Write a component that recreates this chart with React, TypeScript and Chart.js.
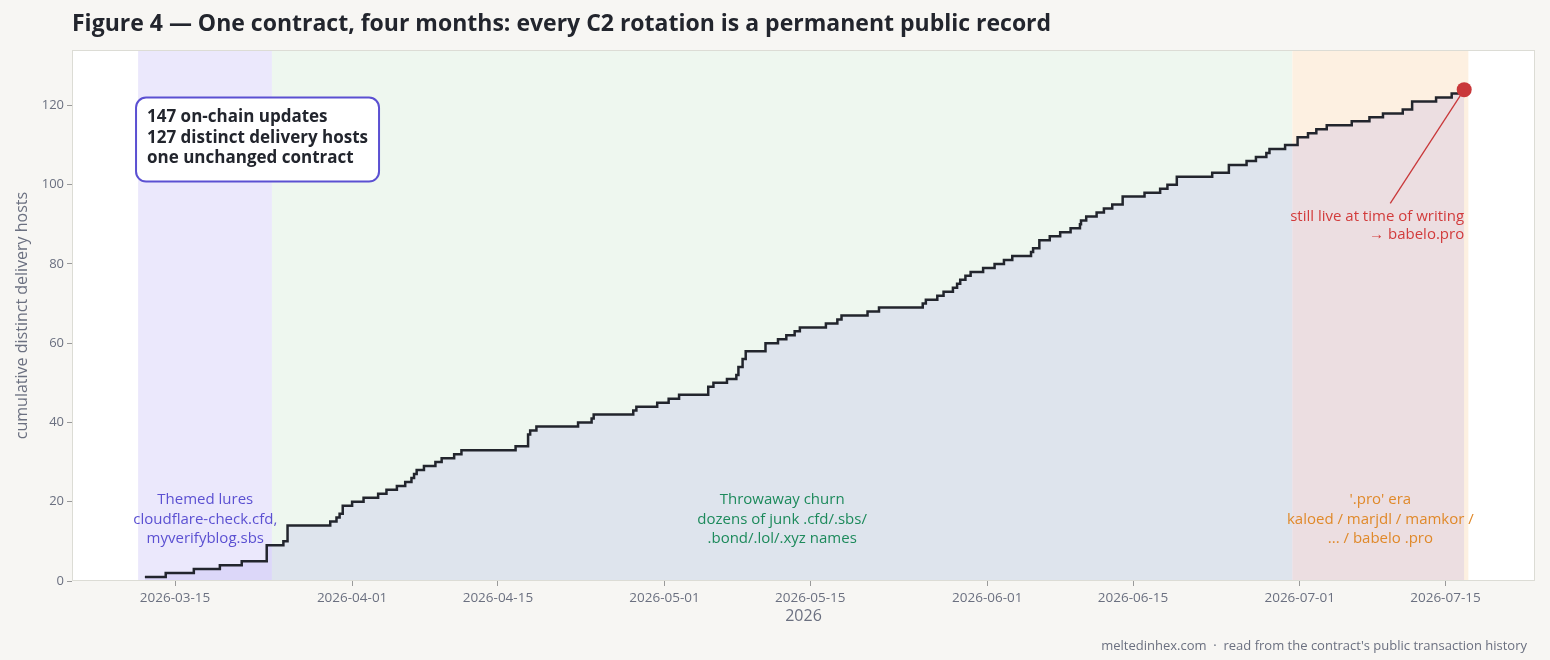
import React, { useEffect, useRef } from 'react';
import { Chart, registerables } from 'chart.js';

Chart.register(...registerables);

// day numbers are days since 2026-03-01
const STEP_DAYS = [
  11.1, 13.1, 15.8, 18.3, 20.4, 22.8, 24.4, 24.8, 28.9, 29.5, 29.8, 30.1, 31.0, 32.1, 33.5, 34.3,
  35.3, 36.1, 36.7, 36.95, 37.2, 37.9, 39.0, 39.6, 40.8, 41.5, 46.7, 47.9, 48.1, 48.7, 52.7, 54.0,
  54.2, 58.0, 58.3, 60.3, 61.4, 62.4, 65.2, 65.7, 67.0, 67.9, 68.1, 68.5, 68.8, 70.7, 71.9, 72.7,
  73.5, 74.0, 76.5, 77.6, 78.0, 80.5, 81.6, 85.8, 86.1, 87.2, 87.8, 88.7, 89.1, 89.4, 89.9, 90.4,
  91.6, 92.7, 93.6, 94.4, 96.2, 96.4, 97.0, 98.0, 99.0, 100.0, 100.9, 101.0, 101.5, 102.5, 103.2,
  104.0, 105.0, 107.1, 108.6, 109.3, 110.2, 113.6, 115.2, 116.9, 117.8, 118.8, 119.1, 120.6, 121.8,
  122.8, 123.6, 124.6, 127.0, 128.7, 130.0, 131.9, 132.8, 135.1, 136.6, 137.4, 137.8,
];
const STEP_COUNTS = [
  1, 2, 3, 4, 5, 9, 10, 14, 15, 16, 17, 19, 20, 21, 22, 23,
  24, 25, 26, 27, 28, 29, 30, 31, 32, 33, 34, 37, 38, 39, 40, 41,
  42, 43, 44, 45, 46, 47, 49, 50, 51, 52, 54, 56, 58, 60, 61, 62,
  63, 64, 65, 66, 67, 68, 69, 70, 71, 72, 73, 74, 75, 76, 77, 78,
  79, 80, 81, 82, 83, 84, 86, 87, 88, 89, 90, 91, 92, 93, 94,
  95, 97, 98, 99, 100, 102, 103, 105, 106, 107, 108, 109, 110, 112,
  113, 114, 115, 116, 117, 118, 119, 121, 122, 123, 124, 124,
];

const TICK_DAYS = [14, 31, 45, 61, 75, 92, 106, 122, 136];
const TICK_LABELS = [
  '2026-03-15', '2026-04-01', '2026-04-15', '2026-05-01', '2026-05-15',
  '2026-06-01', '2026-06-15', '2026-07-01', '2026-07-15',
];
const Y_TICKS = [0, 20, 40, 60, 80, 100, 120];

const X_MIN = 4.1;
const X_MAX = 144.6;
const Y_MAX = 134;

// eras: [startDay, endDay]
const ERA_NAMES = ['Themed lures', 'Throwaway churn', "'.pro' era"];
const ERA_START = [10.45, 23.3, 121.3];
const ERA_END = [23.3, 121.3, 138.2];
const ERA_BG = ['#ebe8fc', '#eef7ef', '#fdf0e1'];

const LAST_DAY = 137.8;
const LAST_COUNT = 124;

const TITLE = 'Figure 4 — One contract, four months: every C2 rotation is a permanent public record';
const FOOTER = "meltedinhex.com  ·  read from the contract's public transaction history";
const BOX_LINES = ['147 on-chain updates', '127 distinct delivery hosts', 'one unchanged contract'];
const ERA_TEXT = [
  ['Themed lures', 'cloudflare-check.cfd,', 'myverifyblog.sbs'],
  ['Throwaway churn', 'dozens of junk .cfd/.sbs/', '.bond/.lol/.xyz names'],
  ["'.pro' era", 'kaloed / marjdl / mamkor /', '... / babelo .pro'],
];
const ERA_TEXT_COLOR = ['#5b50d2', '#1d8a5c', '#e0892a'];
const ERA_TEXT_X = [16.9, 72.3, 129.75];
const ERA_TEXT_Y = 20.4;
const LIVE_TEXT = ['still live at time of writing', '→ babelo.pro'];
const LIVE_ARROW_START = { x: 130.7, y: 95.3 };
const BOX_POS = { x: 10.25, y: 122 };

const FONT = "'Open Sans', 'Noto Sans', sans-serif";
const INK = '#22252d';
const GRAY = '#6b7080';
const RED = '#c9383a';

const decor = {
  id: 'decor',
  beforeDraw(chart: any) {
    const { ctx, width, height } = chart;
    ctx.save();
    ctx.fillStyle = '#f7f6f3';
    ctx.fillRect(0, 0, width, height);
    const a = chart.chartArea;
    ctx.fillStyle = '#ffffff';
    ctx.fillRect(a.left, a.top, a.right - a.left, a.bottom - a.top);
    const xs = chart.scales.x;
    ERA_NAMES.forEach((_, i) => {
      const x0 = xs.getPixelForValue(ERA_START[i]);
      const x1 = xs.getPixelForValue(ERA_END[i]);
      ctx.fillStyle = ERA_BG[i];
      ctx.fillRect(x0, a.top, x1 - x0, a.bottom - a.top);
    });
    ctx.restore();
  },
  afterDatasetsDraw(chart: any) {
    const { ctx } = chart;
    const a = chart.chartArea;
    const xs = chart.scales.x;
    const ys = chart.scales.y;
    ctx.save();
    // border
    ctx.strokeStyle = '#dcdcd5';
    ctx.lineWidth = 1;
    ctx.strokeRect(a.left + 0.5, a.top + 0.5, a.right - a.left - 1, a.bottom - a.top - 1);

    // era labels
    ctx.font = `15px ${FONT}`;
    ctx.textAlign = 'center';
    ctx.textBaseline = 'middle';
    ERA_TEXT.forEach((lines, i) => {
      ctx.fillStyle = ERA_TEXT_COLOR[i];
      const cx = xs.getPixelForValue(ERA_TEXT_X[i]);
      const cy = ys.getPixelForValue(ERA_TEXT_Y);
      lines.forEach((t, j) => ctx.fillText(t, cx, cy + j * 19.5));
    });

    // live annotation
    const px = xs.getPixelForValue(LAST_DAY);
    const py = ys.getPixelForValue(LAST_COUNT);
    const sx = xs.getPixelForValue(LIVE_ARROW_START.x);
    const sy = ys.getPixelForValue(LIVE_ARROW_START.y);
    ctx.strokeStyle = RED;
    ctx.lineWidth = 1.3;
    ctx.beginPath();
    ctx.moveTo(sx, sy);
    ctx.lineTo(px, py);
    ctx.stroke();
    ctx.fillStyle = '#d23b3b';
    ctx.textAlign = 'right';
    ctx.font = `15px ${FONT}`;
    LIVE_TEXT.forEach((t, j) => ctx.fillText(t, px, sy + 13 + j * 18.5));

    // box
    const bx = xs.getPixelForValue(BOX_POS.x);
    const by = ys.getPixelForValue(BOX_POS.y);
    const bw = 243;
    const bh = 84;
    ctx.beginPath();
    ctx.roundRect(bx, by, bw, bh, 10);
    ctx.fillStyle = '#ffffff';
    ctx.fill();
    ctx.strokeStyle = '#5b50d2';
    ctx.lineWidth = 2;
    ctx.stroke();
    ctx.fillStyle = INK;
    ctx.textAlign = 'left';
    ctx.font = `bold 17px ${FONT}`;
    BOX_LINES.forEach((t, j) => ctx.fillText(t, bx + 11, by + 20 + j * 20.5));

    ctx.restore();
  },
  afterDraw(chart: any) {
    const { ctx, width } = chart;
    const a = chart.chartArea;
    ctx.save();
    ctx.fillStyle = INK;
    ctx.textAlign = 'left';
    ctx.textBaseline = 'middle';
    ctx.font = `bold 23px ${FONT}`;
    ctx.fillText(TITLE, a.left, 24);

    ctx.fillStyle = GRAY;
    ctx.font = `16px ${FONT}`;
    ctx.textAlign = 'center';
    ctx.fillText('2026', (a.left + a.right) / 2, 616);
    ctx.save();
    ctx.translate(22, (a.top + a.bottom) / 2);
    ctx.rotate(-Math.PI / 2);
    ctx.fillText('cumulative distinct delivery hosts', 0, 0);
    ctx.restore();

    ctx.font = `13px ${FONT}`;
    ctx.textAlign = 'right';
    ctx.fillText(FOOTER, width - 23, 646);
    ctx.restore();
  },
};

export default function App() {
  const ref = useRef<HTMLCanvasElement | null>(null);
  useEffect(() => {
    if (!ref.current) return;
    const stepData = STEP_DAYS.map((d, i) => ({ x: d, y: STEP_COUNTS[i] }));
    const chart = new Chart(ref.current, {
      type: 'line',
      data: {
        datasets: [
          {
            data: [{ x: LAST_DAY, y: LAST_COUNT }],
            showLine: false,
            pointRadius: 7.5,
            pointBackgroundColor: RED,
            pointBorderWidth: 0,
            order: 0,
          } as any,
          {
            data: stepData,
            stepped: 'before',
            borderColor: INK,
            borderWidth: 2.5,
            pointRadius: 0,
            fill: 'origin',
            backgroundColor: 'rgba(90,70,230,0.1)',
            order: 1,
          } as any,
        ],
      },
      options: {
        responsive: false,
        animation: false,
        layout: { padding: { top: 50, right: 15, bottom: 0, left: 0 } },
        plugins: { legend: { display: false }, tooltip: { enabled: false }, title: { display: false } },
        scales: {
          x: {
            type: 'linear',
            min: X_MIN,
            max: X_MAX,
            border: { display: false },
            grid: { drawOnChartArea: false, drawTicks: true, tickLength: 5, color: '#9a9a9a' },
            afterBuildTicks: (s: any) => {
              s.ticks = TICK_DAYS.map((v) => ({ value: v }));
            },
            afterFit: (s: any) => {
              s.height = 79;
            },
            ticks: {
              autoSkip: false,
              maxRotation: 0,
              padding: 4,
              color: GRAY,
              font: { family: FONT, size: 13.5 },
              callback: (v: any) => {
                const i = TICK_DAYS.indexOf(Number(v));
                return i >= 0 ? TICK_LABELS[i] : '';
              },
            },
          },
          y: {
            type: 'linear',
            min: 0,
            max: Y_MAX,
            border: { display: false },
            grid: { drawOnChartArea: false, drawTicks: true, tickLength: 5, color: '#9a9a9a' },
            afterBuildTicks: (s: any) => {
              s.ticks = Y_TICKS.map((v) => ({ value: v }));
            },
            afterFit: (s: any) => {
              s.width = 72;
            },
            ticks: {
              padding: 3,
              color: GRAY,
              font: { family: FONT, size: 13 },
            },
          },
        },
      },
      plugins: [decor],
    });
    return () => chart.destroy();
  }, []);
  return (
    <div style={{ position: 'absolute', left: 0, top: 0, width: 1550, height: 660 }}>
      <canvas ref={ref} width={1550} height={660} />
    </div>
  );
}
